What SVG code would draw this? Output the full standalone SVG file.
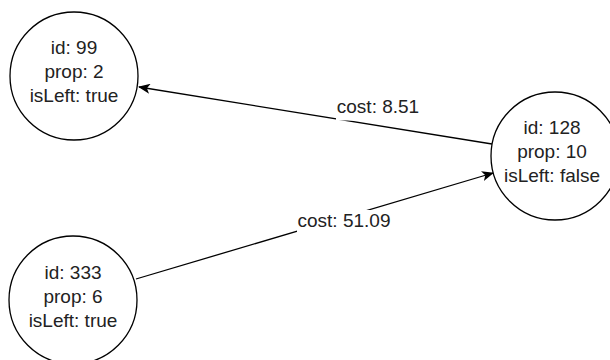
<svg xmlns="http://www.w3.org/2000/svg" width="610" height="360" viewBox="0 0 610 360">
  <style>
    .node circle { fill: #ffffff; stroke: #000000; stroke-width: 1.3; }
    .node text, .label text { font-family: "Liberation Sans", Arial, Helvetica, sans-serif; font-size: 19px; fill: #222222; text-anchor: middle; }
    .edge { stroke: #000000; stroke-width: 1.3; fill: none; marker-end: url(#arrow); }
    .label rect { fill: #ffffff; stroke: none; }
  </style>
  <defs>
    <marker id="arrow" viewBox="0 0 12 10" refX="11" refY="5" markerWidth="12" markerHeight="10" markerUnits="userSpaceOnUse" orient="auto">
      <path d="M0,0 L12,5 L0,10 L3,5 Z" fill="#000000"/>
    </marker>
  </defs>
  <rect x="0" y="0" width="610" height="360" fill="#ffffff"/>

  <g id="connectors">
    <path class="edge" d="M492,144 L139,87"/>
    <path class="edge" d="M136,279 L493,173"/>
    <g class="label" id="label-8-51">
      <rect x="336" y="97" width="84" height="23.5"/>
      <text x="378" y="113">cost: 8.51</text>
    </g>
    <g class="label" id="label-51-09">
      <rect x="297" y="210" width="95" height="24.5"/>
      <text x="344" y="227">cost: 51.09</text>
    </g>
  </g>

  <g id="node-99" class="node">
    <circle cx="74" cy="76" r="64"/>
    <text x="74" y="54">id: 99</text>
    <text x="74" y="78">prop: 2</text>
    <text x="74" y="102">isLeft: true</text>
  </g>

  <g id="node-128" class="node">
    <circle cx="555" cy="156" r="64"/>
    <text x="552" y="134">id: 128</text>
    <text x="552" y="158">prop: 10</text>
    <text x="552" y="182">isLeft: false</text>
  </g>

  <g id="node-333" class="node">
    <circle cx="73" cy="300" r="64"/>
    <text x="73" y="279">id: 333</text>
    <text x="73" y="303">prop: 6</text>
    <text x="73" y="327">isLeft: true</text>
  </g>
</svg>
